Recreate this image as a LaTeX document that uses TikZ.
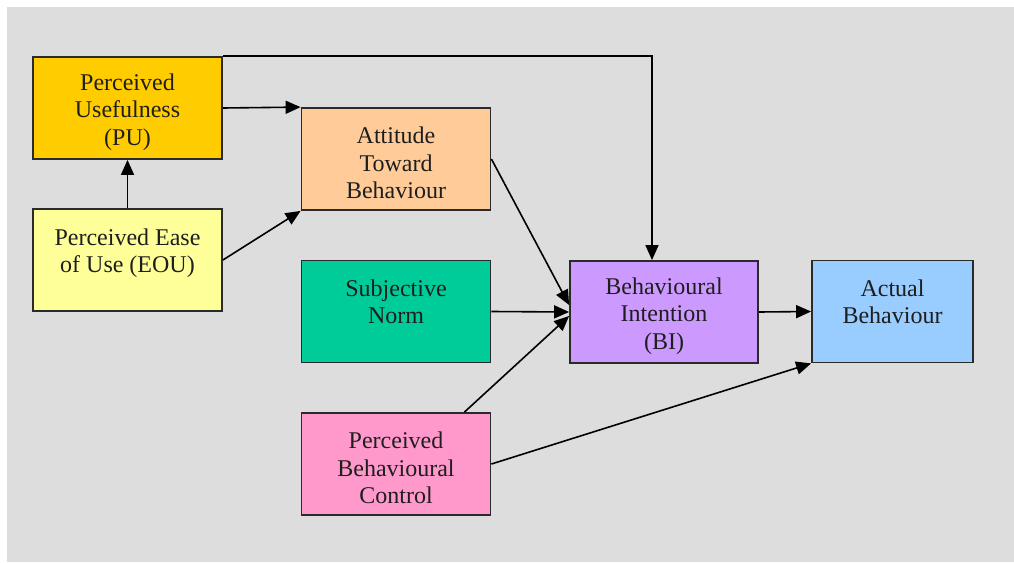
\documentclass[tikz,border=0pt]{standalone}
\usepackage{fontspec}
\setmainfont{Liberation Serif}
\newfontfamily\tnrfont{Liberation Serif}
\usetikzlibrary{arrows.meta,calc}
\definecolor{bg}{HTML}{DDDDDD}
\definecolor{cPU}{HTML}{FFCC00}
\definecolor{cEOU}{HTML}{FFFF99}
\definecolor{cATB}{HTML}{FFCC99}
\definecolor{cSN}{HTML}{00CC99}
\definecolor{cBI}{HTML}{CC99FF}
\definecolor{cAB}{HTML}{99CCFF}
\definecolor{cPBC}{HTML}{FF99CC}
\definecolor{edge}{HTML}{2A2A2A}
\definecolor{ink}{HTML}{1E1E1E}
\tikzset{
  box/.style={draw=edge, line width=1.8pt, minimum width=189pt, minimum height=102pt,
    inner sep=0pt},
  txt/.style={inner sep=0pt, align=center, text=ink,
    font=\tnrfont\fontsize{24}{27.3}\selectfont},
  arr/.style={draw=black, line width=1.6pt, -{Triangle[length=15pt,width=13pt]}}
}
\begin{document}
\begin{tikzpicture}[x=1pt,y=-1pt]
\useasboundingbox (0,0) rectangle (1014,562);
\fill[bg] (7,7) rectangle (1014,562);
\node[box, fill=cPU]  (PU)  at (127.5,108) {};
\node[box, fill=cEOU] (EOU) at (127.5,260) {};
\node[box, fill=cATB] (ATB) at (396,159) {};
\node[box, fill=cSN]  (SN)  at (396,311.5) {};
\node[box, fill=cPBC] (PBC) at (396,464) {};
\node[box, fill=cBI, minimum width=188pt] (BI) at (664,312) {};
\node[box, fill=cAB, minimum width=161pt] (AB) at (892.5,311.5) {};
\node[txt] (PUt)  at ([yshift=-4pt]PU.center)  {Perceived\\Usefulness\\(PU)};
\node[txt] (EOUt) at ([yshift=-4pt]EOU.center) {Perceived Ease\\of Use (EOU)\\~};
\node[txt] (ATBt) at ([yshift=-4pt]ATB.center) {Attitude\\Toward\\Behaviour};
\node[txt] (SNt)  at ([yshift=-4pt]SN.center)  {Subjective\\Norm\\~};
\node[txt] (PBCt) at ([yshift=-4pt]PBC.center) {Perceived\\Behavioural\\Control};
\node[txt] (BIt)  at ([yshift=-4pt]BI.center)  {Behavioural\\Intention\\(BI)};
\node[txt] (ABt)  at ([yshift=-4pt]AB.center)  {Actual\\Behaviour\\~};
\draw[arr] (PU.east) -- (ATB.north west);
\draw[arr] (PU.north east) -| ([xshift=-12pt]BI.north);
\draw[arr] (EOU.north) -- (PU.south);
\draw[arr] (EOU.east) -- (ATB.south west);
\draw[arr] (ATB.east) -- ([yshift=7pt]BI.west);
\draw[arr] (SN.east) -- (BI.west);
\draw[arr] ([xshift=-27pt]PBC.north east) -- ([yshift=-4pt]BI.west);
\draw[arr] (PBC.east) -- (AB.south west);
\draw[arr] (BI.east) -- (AB.west);
\end{tikzpicture}
\end{document}
